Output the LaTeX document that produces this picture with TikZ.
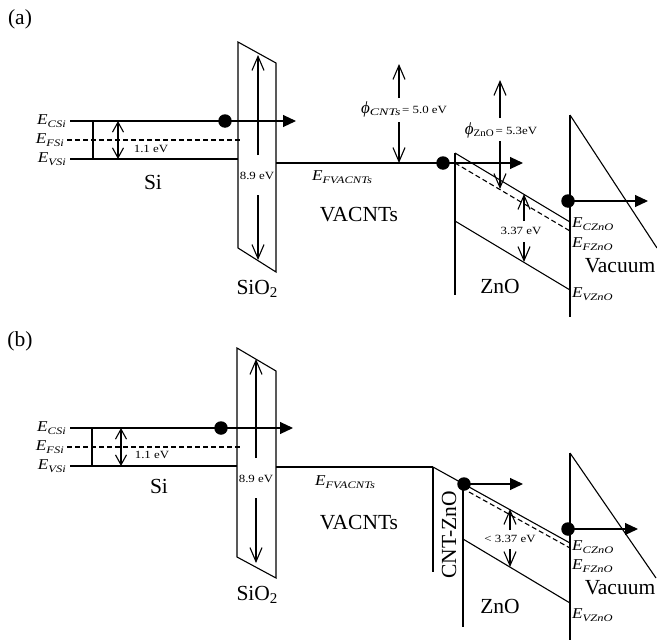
\documentclass[tikz,border=0pt]{standalone}
\usepackage{fontspec}
\usepackage{graphicx}
\setmainfont{Liberation Serif}
\usetikzlibrary{arrows.meta}
\newcommand{\Elab}[1]{{\fontsize{15}{15}\selectfont\itshape\scalebox{1.15}[1]{E}}\raisebox{-2.5pt}{\fontsize{10}{10}\selectfont\itshape\scalebox{1.25}[1]{#1}}}
\newcommand{\smt}[1]{{\fontsize{11}{11}\selectfont\scalebox{1.17}[1]{#1}}}
\tikzset{
  ln/.style={line width=1.1pt},
  dsh/.style={line width=1.1pt, dash pattern=on 5pt off 3pt},
  barb/.style={line width=1.1pt, -{Straight Barb[length=14pt,width=12pt]}},
  sbarb/.style={line width=1.1pt, {Straight Barb[length=10pt,width=11pt]}-{Straight Barb[length=10pt,width=11pt]}},
  eln/.style={line width=1.1pt, -{Triangle[length=13pt,width=12pt]}},
  edot/.style={circle, fill=black, inner sep=0pt, minimum size=13.5pt},
  big/.style={font=\fontsize{21.5}{21.5}\selectfont, inner sep=0pt},
  lab/.style={inner sep=0pt}
}
\begin{document}
\begin{tikzpicture}[x=1pt,y=-1pt]
\useasboundingbox (0,0) rectangle (657,640);

% ================= (a) =================
\node[big] (la) at (20,19) {(a)};
% Si levels
\node[lab, anchor=east] (ecA) at (66,121) {\Elab{CSi}};
\node[lab, anchor=east] (efA) at (64,140) {\Elab{FSi}};
\node[lab, anchor=east] (evA) at (66,159) {\Elab{VSi}};
\coordinate (csA) at (70,121);
\node[edot] (dA1) at (225,121) {};
\coordinate (csAe) at (296,121);
\draw[ln] (csA) -- (dA1.center);
\draw[eln] (dA1.center) -- (csAe);
\draw[dsh] (67,140) -- (240,140);
\draw[ln] (70,159) -- (238,159);
\draw[ln] (93,121) -- (93,159);
\draw[sbarb] (118,121) -- (118,159);
\node[lab] (gA) at (151,149) {\smt{1.1 eV}};
\node[big] (siA) at (153,182) {Si};
% SiO2
\draw[ln] (238,42) -- (276,63) -- (276,272) -- (238,248) -- cycle;
\node[lab] (oxA) at (257,176) {\smt{8.9 eV}};
\draw[barb] (258,155) -- (258,55);
\draw[barb] (258,195) -- (258,260);
\node[big] (sioA) at (257,289) {SiO\raisebox{-3pt}{\fontsize{15}{15}\selectfont 2}};
% VACNTs
\node[edot] (dA2) at (443,163) {};
\draw[ln] (276,163) -- (dA2.center);
\draw[eln] (dA2.center) -- (523,163);
\node[lab] (efvA) at (342,177) {\Elab{FVACNTs}};
\node[big] (vaA) at (359,215) {VACNTs};
% phi CNTs
\node[lab] (phA) at (404,109) {{\fontsize{17}{17}\selectfont\itshape ϕ}\raisebox{-2pt}{\fontsize{10}{10}\selectfont\itshape\scalebox{1.4}[1]{CNTs}}\,\smt{= 5.0 eV}};
\draw[barb] (399,98) -- (399,64);
\draw[barb] (399,122) -- (399,163);
% ZnO
\draw[ln] (455,153) -- (455,295);
\draw[ln] (455,153) -- (570,222);
\draw[dsh] (455,163) -- (570,231);
\draw[ln] (455,221) -- (570,290);
\node[lab] (pzA) at (501,130) {{\fontsize{17}{17}\selectfont\itshape ϕ}\raisebox{-2pt}{\fontsize{10}{10}\selectfont\scalebox{1.1}[1]{ZnO}}\,\smt{= 5.3eV}};
\draw[barb] (500,118) -- (500,80);
\draw[barb] (500,141) -- (500,189);
\node[lab] (bgA) at (521,231) {\smt{3.37 eV}};
\draw[barb] (524,221) -- (524,194);
\draw[barb] (524,242) -- (524,262);
\node[big] (znA) at (500,286) {ZnO};
% Vacuum
\draw[ln] (570,115) -- (570,317);
\draw[ln] (570,115) -- (657,248);
\node[edot] (dA3) at (568,201) {};
\draw[eln] (dA3.center) -- (648,201);
\node[lab, anchor=west] (eczA) at (572,224) {\Elab{CZnO}};
\node[lab, anchor=west] (efzA) at (572,244) {\Elab{FZnO}};
\node[lab, anchor=west] (evzA) at (572,294) {\Elab{VZnO}};
\node[big] (vcA) at (620,266) {Vacuum};

% ================= (b) =================
\node[big] (lb) at (20,341) {(b)};
\node[lab, anchor=east] (ecB) at (66,428) {\Elab{CSi}};
\node[lab, anchor=east] (efB) at (64,447) {\Elab{FSi}};
\node[lab, anchor=east] (evB) at (66,466) {\Elab{VSi}};
\node[edot] (dB1) at (221,428) {};
\draw[ln] (70,428) -- (dB1.center);
\draw[eln] (dB1.center) -- (293,428);
\draw[dsh] (67,447) -- (240,447);
\draw[ln] (70,466) -- (237,466);
\draw[ln] (92,428) -- (92,466);
\draw[sbarb] (121,428) -- (121,466);
\node[lab] (gB) at (152,455) {\smt{1.1 eV}};
\node[big] (siB) at (159,486) {Si};
% SiO2
\draw[ln] (237,348) -- (276,371) -- (276,578) -- (237,557) -- cycle;
\node[lab] (oxB) at (256,479) {\smt{8.9 eV}};
\draw[barb] (256,458) -- (256,359);
\draw[barb] (256,498) -- (256,563);
\node[big] (sioB) at (257,595) {SiO\raisebox{-3pt}{\fontsize{15}{15}\selectfont 2}};
% VACNTs
\draw[ln] (276,467) -- (433,467);
\node[lab] (efvB) at (345,482) {\Elab{FVACNTs}};
\node[big] (vaB) at (359,523) {VACNTs};
% CNT-ZnO interface
\draw[ln] (433,467) -- (433,572);
\draw[ln] (433,467) -- (570,543);
\node[big, rotate=90] (cz) at (449,535) {CNT-ZnO};
% ZnO
\draw[ln] (463,484) -- (463,627);
\node[edot] (dB2) at (464,484) {};
\draw[eln] (dB2.center) -- (523,484);
\draw[dsh] (469,492) -- (570,548);
\draw[ln] (463,539) -- (570,603);
\node[lab] (bgB) at (510,539) {\smt{< 3.37 eV}};
\draw[barb] (510,530) -- (510,509);
\draw[barb] (510,549) -- (510,567);
\node[big] (znB) at (500,606) {ZnO};
% Vacuum
\draw[ln] (570,453) -- (570,640);
\draw[ln] (570,453) -- (656,578);
\node[edot] (dB3) at (568,529) {};
\draw[eln] (dB3.center) -- (638,529);
\node[lab, anchor=west] (eczB) at (572,547) {\Elab{CZnO}};
\node[lab, anchor=west] (efzB) at (572,566) {\Elab{FZnO}};
\node[lab, anchor=west] (evzB) at (572,615) {\Elab{VZnO}};
\node[big] (vcB) at (620,588) {Vacuum};
\end{tikzpicture}
\end{document}
